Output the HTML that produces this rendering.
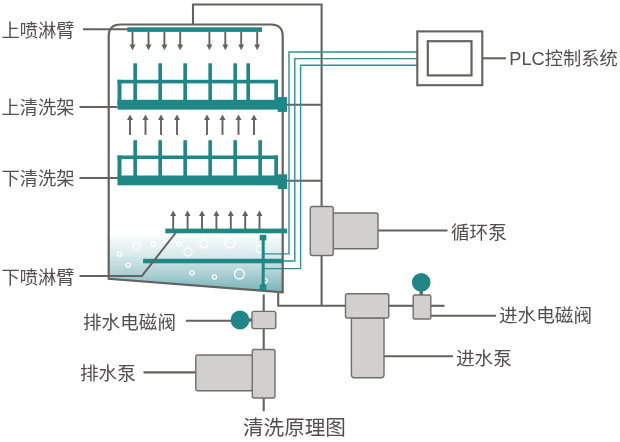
<!DOCTYPE html>
<html lang="zh-CN">
<head>
<meta charset="utf-8">
<title>清洗原理图</title>
<style>
html,body{margin:0;padding:0;background:#fff;}
body{width:620px;height:442px;overflow:hidden;}
svg{display:block;filter:blur(0.4px);}
</style>
</head>
<body>
<svg width="620" height="442" viewBox="0 0 620 442">
<defs>
<linearGradient id="w" x1="0" y1="0" x2="0" y2="1">
<stop offset="0" stop-color="#f6fafa"/>
<stop offset="0.3" stop-color="#dcecee"/>
<stop offset="0.65" stop-color="#aed1d5"/>
<stop offset="1" stop-color="#74b3b8"/>
</linearGradient>
</defs>
<path d="M108.7 237 L282.7 237 L282.7 292.3 L108.7 278.8 Z" fill="url(#w)"/>
<circle cx="136.4" cy="246.3" r="3.6" fill="none" stroke="#fff" stroke-width="1.35" opacity="0.92"/>
<circle cx="119.4" cy="254.3" r="2.1" fill="none" stroke="#fff" stroke-width="1.35" opacity="0.92"/>
<circle cx="128.1" cy="265.2" r="2.1" fill="none" stroke="#fff" stroke-width="1.35" opacity="0.92"/>
<circle cx="153.3" cy="244.4" r="2.1" fill="none" stroke="#fff" stroke-width="1.35" opacity="0.92"/>
<circle cx="179" cy="244" r="2.1" fill="none" stroke="#fff" stroke-width="1.35" opacity="0.92"/>
<circle cx="188" cy="252" r="4" fill="none" stroke="#fff" stroke-width="1.35" opacity="0.92"/>
<circle cx="204" cy="244" r="4" fill="none" stroke="#fff" stroke-width="1.35" opacity="0.92"/>
<circle cx="230" cy="243" r="5" fill="none" stroke="#fff" stroke-width="1.35" opacity="0.92"/>
<circle cx="192" cy="273" r="2.1" fill="none" stroke="#fff" stroke-width="1.35" opacity="0.92"/>
<circle cx="214.5" cy="277" r="2.1" fill="none" stroke="#fff" stroke-width="1.35" opacity="0.92"/>
<circle cx="239.5" cy="274" r="5" fill="none" stroke="#fff" stroke-width="1.35" opacity="0.92"/>
<circle cx="265.2" cy="280.8" r="2.1" fill="none" stroke="#fff" stroke-width="1.35" opacity="0.92"/>
<circle cx="260" cy="249" r="3.8" fill="none" stroke="#fff" stroke-width="1.35" opacity="0.92"/>
<g stroke="#65625f" stroke-width="2.1" fill="none" stroke-linecap="butt">
<path d="M287 104.7 H321.6"/>
<path d="M287 180.8 H321.6"/>
<path d="M193 25 V4.5 H321.6 V207"/>
<path d="M321.6 255 V305.8"/>
<path d="M278.2 292 V305.8 H346"/>
<path d="M389 305.8 H413"/>
<path d="M431 305.8 H444.5"/>
<path d="M431 315.7 H496"/>
<path d="M384 356.3 H453"/>
<path d="M263.7 294.5 V311"/>
<path d="M263.7 328.5 V349.5"/>
<path d="M263.7 398 V411.2"/>
<path d="M83 29.3 H128"/>
<path d="M79.5 107 H117.5"/>
<path d="M79.5 178 H117.5"/>
<path d="M186 320.7 H231"/>
<path d="M143.5 372.4 H196"/>
<path d="M378 230.5 H447.5"/>
<path d="M483 58.3 H506"/>
</g>
<g stroke="#2f9190" stroke-width="1.4" fill="none">
<path d="M417 52 H289 V253.9 H264"/>
<path d="M417 58.6 H294.8 V261 H282"/>
<path d="M417 65.3 H300.6 V268.6 H264"/>
</g>
<path d="M108.7 278.8 V36 Q108.7 24.5 120.7 24.5 H270.7 Q282.7 24.5 282.7 36 V292.3 Z" fill="none" stroke="#65625f" stroke-width="2.2" stroke-linejoin="miter"/>
<g fill="#1f8786">
<rect x="127.3" y="27.3" width="134.7" height="4.6"/>
<rect x="117.5" y="79.8" width="160.5" height="3.6"/>
<rect x="117.5" y="79.8" width="4" height="25"/>
<rect x="274.3" y="79.8" width="3.7" height="25"/>
<rect x="117.5" y="99.8" width="160.5" height="9.8"/>
<rect x="133.35" y="63.3" width="3.6" height="40"/>
<rect x="158.35" y="63.3" width="3.6" height="40"/>
<rect x="183.35" y="63.3" width="3.6" height="40"/>
<rect x="208.35" y="63.3" width="3.6" height="40"/>
<rect x="233.35" y="63.3" width="3.6" height="40"/>
<rect x="246.35" y="63.3" width="3.6" height="40"/>
<rect x="277.7" y="97.1" width="9.3" height="14.8"/>
<rect x="117.5" y="155.5" width="160.5" height="3.6"/>
<rect x="117.5" y="155.5" width="4" height="25"/>
<rect x="274.3" y="155.5" width="3.7" height="25"/>
<rect x="117.5" y="175.5" width="160.5" height="9.8"/>
<rect x="133.35" y="140.2" width="3.6" height="40"/>
<rect x="158.35" y="140.2" width="3.6" height="40"/>
<rect x="183.35" y="140.2" width="3.6" height="40"/>
<rect x="208.35" y="140.2" width="3.6" height="40"/>
<rect x="233.35" y="140.2" width="3.6" height="40"/>
<rect x="258.35" y="140.2" width="3.6" height="40"/>
<rect x="277.7" y="174.3" width="9.3" height="14.8"/>
<rect x="165.3" y="228.6" width="121.7" height="4.7"/>
<rect x="143.1" y="258.8" width="139.5" height="4.5"/>
<rect x="261.7" y="236" width="3" height="52"/>
<rect x="259.7" y="234.8" width="6.6" height="5.6"/>
<rect x="259.7" y="284.5" width="6.6" height="6"/>
<circle cx="240" cy="320" r="9.4"/>
<circle cx="421.2" cy="282.4" r="9.3"/>
</g>
<path d="M79.5 275.9 H142 L176.3 232" stroke="#65625f" stroke-width="2" fill="none"/>
<rect x="249" y="318.3" width="3.5" height="3.4" fill="#65625f"/>
<rect x="419.5" y="291" width="3.4" height="4" fill="#65625f"/>
<path d="M132.5 32 V45.0" stroke="#65625f" stroke-width="1.9" fill="none"/>
<path d="M132.5 50.2 L135.5 44.5 L129.5 44.5 Z" fill="#65625f"/>
<path d="M148.5 32 V45.0" stroke="#65625f" stroke-width="1.9" fill="none"/>
<path d="M148.5 50.2 L151.5 44.5 L145.5 44.5 Z" fill="#65625f"/>
<path d="M164.4 32 V45.0" stroke="#65625f" stroke-width="1.9" fill="none"/>
<path d="M164.4 50.2 L167.4 44.5 L161.4 44.5 Z" fill="#65625f"/>
<path d="M180.2 32 V45.0" stroke="#65625f" stroke-width="1.9" fill="none"/>
<path d="M180.2 50.2 L183.2 44.5 L177.2 44.5 Z" fill="#65625f"/>
<path d="M209.4 32 V45.0" stroke="#65625f" stroke-width="1.9" fill="none"/>
<path d="M209.4 50.2 L212.4 44.5 L206.4 44.5 Z" fill="#65625f"/>
<path d="M225.3 32 V45.0" stroke="#65625f" stroke-width="1.9" fill="none"/>
<path d="M225.3 50.2 L228.3 44.5 L222.3 44.5 Z" fill="#65625f"/>
<path d="M241.2 32 V45.0" stroke="#65625f" stroke-width="1.9" fill="none"/>
<path d="M241.2 50.2 L244.2 44.5 L238.2 44.5 Z" fill="#65625f"/>
<path d="M257.2 32 V45.0" stroke="#65625f" stroke-width="1.9" fill="none"/>
<path d="M257.2 50.2 L260.2 44.5 L254.2 44.5 Z" fill="#65625f"/>
<path d="M130 119.60000000000001 V134.9" stroke="#65625f" stroke-width="1.9" fill="none"/>
<path d="M130 114.4 L133.0 120.10000000000001 L127.0 120.10000000000001 Z" fill="#65625f"/>
<path d="M145.5 119.60000000000001 V134.9" stroke="#65625f" stroke-width="1.9" fill="none"/>
<path d="M145.5 114.4 L148.5 120.10000000000001 L142.5 120.10000000000001 Z" fill="#65625f"/>
<path d="M161 119.60000000000001 V134.9" stroke="#65625f" stroke-width="1.9" fill="none"/>
<path d="M161 114.4 L164.0 120.10000000000001 L158.0 120.10000000000001 Z" fill="#65625f"/>
<path d="M177 119.60000000000001 V134.9" stroke="#65625f" stroke-width="1.9" fill="none"/>
<path d="M177 114.4 L180.0 120.10000000000001 L174.0 120.10000000000001 Z" fill="#65625f"/>
<path d="M207 119.60000000000001 V134.9" stroke="#65625f" stroke-width="1.9" fill="none"/>
<path d="M207 114.4 L210.0 120.10000000000001 L204.0 120.10000000000001 Z" fill="#65625f"/>
<path d="M222.5 119.60000000000001 V134.9" stroke="#65625f" stroke-width="1.9" fill="none"/>
<path d="M222.5 114.4 L225.5 120.10000000000001 L219.5 120.10000000000001 Z" fill="#65625f"/>
<path d="M238.5 119.60000000000001 V134.9" stroke="#65625f" stroke-width="1.9" fill="none"/>
<path d="M238.5 114.4 L241.5 120.10000000000001 L235.5 120.10000000000001 Z" fill="#65625f"/>
<path d="M254 119.60000000000001 V134.9" stroke="#65625f" stroke-width="1.9" fill="none"/>
<path d="M254 114.4 L257.0 120.10000000000001 L251.0 120.10000000000001 Z" fill="#65625f"/>
<path d="M173.2 215.6 V229" stroke="#65625f" stroke-width="1.9" fill="none"/>
<path d="M173.2 210.4 L176.2 216.1 L170.2 216.1 Z" fill="#65625f"/>
<path d="M187.6 215.6 V229" stroke="#65625f" stroke-width="1.9" fill="none"/>
<path d="M187.6 210.4 L190.6 216.1 L184.6 216.1 Z" fill="#65625f"/>
<path d="M202 215.6 V229" stroke="#65625f" stroke-width="1.9" fill="none"/>
<path d="M202 210.4 L205.0 216.1 L199.0 216.1 Z" fill="#65625f"/>
<path d="M216.4 215.6 V229" stroke="#65625f" stroke-width="1.9" fill="none"/>
<path d="M216.4 210.4 L219.4 216.1 L213.4 216.1 Z" fill="#65625f"/>
<path d="M230.8 215.6 V229" stroke="#65625f" stroke-width="1.9" fill="none"/>
<path d="M230.8 210.4 L233.8 216.1 L227.8 216.1 Z" fill="#65625f"/>
<path d="M245.2 215.6 V229" stroke="#65625f" stroke-width="1.9" fill="none"/>
<path d="M245.2 210.4 L248.2 216.1 L242.2 216.1 Z" fill="#65625f"/>
<path d="M259.5 215.6 V229" stroke="#65625f" stroke-width="1.9" fill="none"/>
<path d="M259.5 210.4 L262.5 216.1 L256.5 216.1 Z" fill="#65625f"/>
<g fill="#d1d0ce" stroke="#716f6c" stroke-width="1.4">
<rect x="333" y="213" width="45" height="35.7" rx="2"/>
<rect x="310.3" y="206.5" width="22.9" height="49" rx="2"/>
<path d="M351.4 318 V374.7 Q351.4 377.7 354.4 377.7 H381 Q384 377.7 384 374.7 V318 Z"/>
<rect x="345.5" y="293.7" width="43.3" height="24.3" rx="2"/>
<rect x="413.2" y="295" width="17.6" height="24" rx="1.5"/>
<rect x="252" y="311.4" width="23.8" height="17.2" rx="2"/>
<rect x="195.8" y="355" width="57" height="35.7" rx="2"/>
<rect x="252.3" y="349.5" width="22.7" height="48.5" rx="2"/>
</g>
<rect x="417.3" y="31.4" width="65" height="53.8" fill="#fff" stroke="#65625f" stroke-width="2.1"/>
<rect x="427.8" y="41.2" width="43.7" height="34.2" fill="#fff" stroke="#65625f" stroke-width="2.2"/>
<g fill="#524f4f" font-family="'Liberation Sans', 'Noto Sans CJK SC', sans-serif" font-weight="400">
<text x="1.5" y="36.5" font-size="18.3" text-anchor="start">上喷淋臂</text>
<text x="1.5" y="114.3" font-size="18.3" text-anchor="start">上清洗架</text>
<text x="1.5" y="185" font-size="18.3" text-anchor="start">下清洗架</text>
<text x="1.5" y="283.5" font-size="18.3" text-anchor="start">下喷淋臂</text>
<text x="83" y="328.5" font-size="18.6" text-anchor="start">排水电磁阀</text>
<text x="80" y="380" font-size="18.6" text-anchor="start">排水泵</text>
<text x="509.3" y="65.3" font-size="18.25" text-anchor="start">PLC控制系统</text>
<text x="451" y="238.5" font-size="18.6" text-anchor="start">循环泵</text>
<text x="499" y="322" font-size="18.6" text-anchor="start">进水电磁阀</text>
<text x="456" y="365" font-size="18.6" text-anchor="start">进水泵</text>
<text x="243" y="435.3" font-size="20.6" text-anchor="start">清洗原理图</text>
</g>
</svg>
</body>
</html>
